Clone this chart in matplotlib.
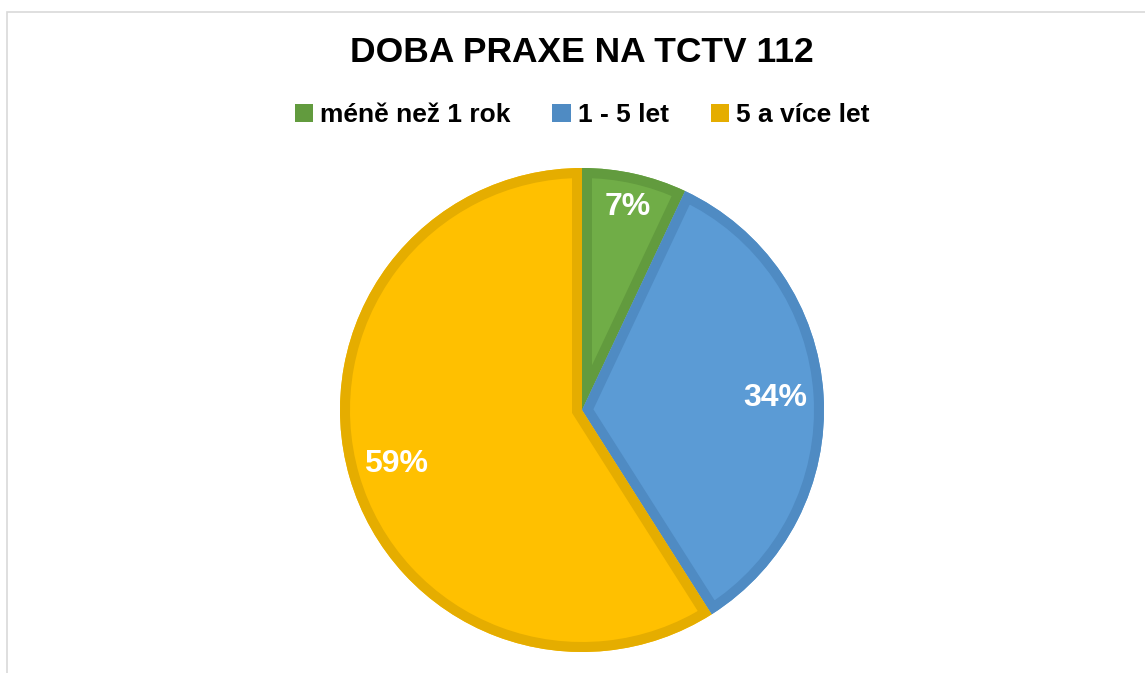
import matplotlib.pyplot as plt
import numpy as np
from matplotlib.patches import Patch, Rectangle, Wedge

plt.rcParams["font.family"] = ["Liberation Sans", "DejaVu Sans"]

# data
categories = ["méně než 1 rok", "1 - 5 let", "5 a více let"]
shares = [7, 34, 59]
labels_pct = ["7%", "34%", "59%"]

fill_colors = ["#70ad47", "#5b9bd5", "#ffc000"]
edge_colors = ["#629b3e", "#4f8bc3", "#e5ad00"]
label_dist = [0.86, 0.80, 0.80]

W, H = 1145, 673
fig = plt.figure(figsize=(W / 100, H / 100), dpi=100)

# light grey chart border (runs off the right/bottom edge)
fig.patches.append(Rectangle((7 / W, -0.1), 1.2, (H - 12) / H + 0.1,
                             transform=fig.transFigure, fill=False,
                             edgecolor="#d9d9d9", linewidth=1.2))

# pie centre (582, 410) px, radius 242 px
cx, cy, r = 582, 410, 242
half = 1.25 * r
ax = fig.add_axes([(cx - half) / W, (H - cy - half) / H, 2 * half / W, 2 * half / H])

wedges, _ = ax.pie(shares, colors=fill_colors, startangle=90, counterclock=False,
                   radius=1.0, wedgeprops={"linewidth": 0})
ax.set_xlim(-1.25, 1.25)
ax.set_ylim(-1.25, 1.25)

# inner stroke: a copy of each slice, outline only, clipped to the slice
for w, ec in zip(wedges, edge_colors):
    s = Wedge(w.center, w.r, w.theta1, w.theta2, fill=False,
              edgecolor=ec, linewidth=14.4)
    ax.add_patch(s)
    s.set_clip_path(w)

for w, txt, d in zip(wedges, labels_pct, label_dist):
    ang = np.deg2rad((w.theta1 + w.theta2) / 2)
    ax.text(d * np.cos(ang), d * np.sin(ang), txt, ha="center", va="center",
            color="white", fontsize=23, fontweight="bold", zorder=5)

fig.text(cx / W, 1 - 53 / H, "DOBA PRAXE NA TCTV 112", ha="center", va="center",
         fontsize=25.5, fontweight="bold", color="black")

handles = [Patch(facecolor=c, edgecolor="none") for c in edge_colors]
fig.legend(handles, categories, loc="center", bbox_to_anchor=(cx / W, 1 - 115 / H),
           ncol=3, frameon=False, handlelength=0.7, handleheight=0.7,
           handletextpad=0.25, columnspacing=1.6,
           prop={"size": 19, "weight": "bold"})

fig.savefig("out.png", dpi=100)
